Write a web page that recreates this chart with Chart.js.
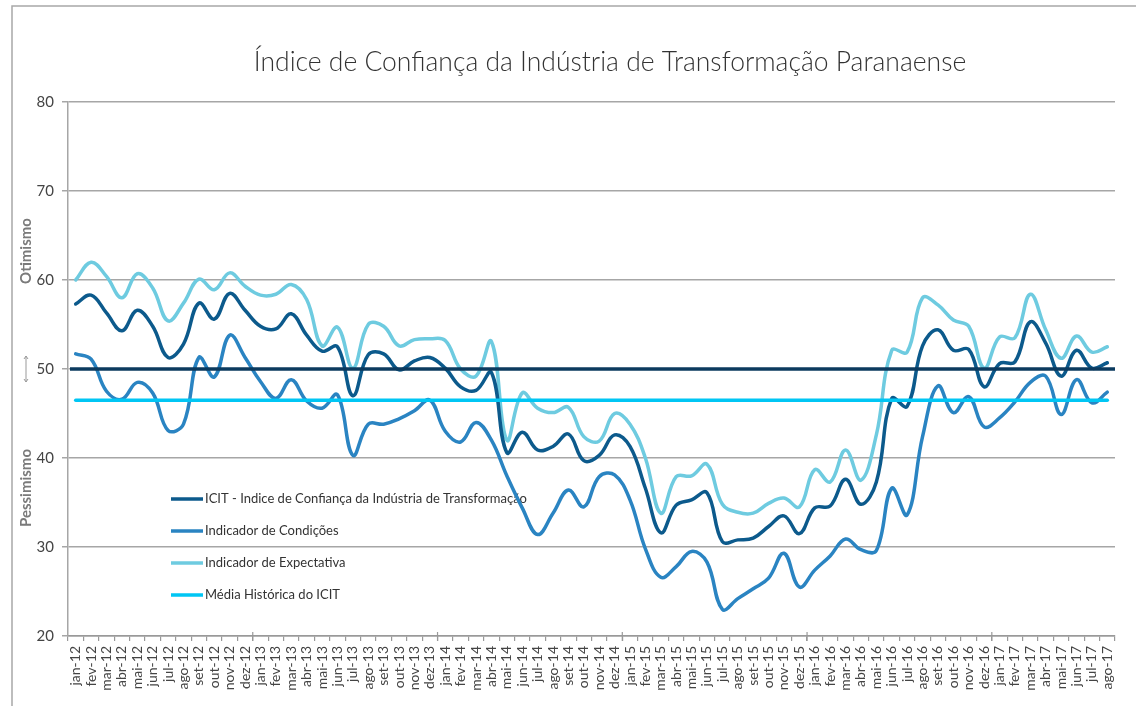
<!DOCTYPE html>
<html>
<head>
<meta charset="utf-8">
<script src="https://cdn.jsdelivr.net/npm/chart.js@4.4.1/dist/chart.umd.min.js"></script>
<style>
  html, body { margin: 0; padding: 0; background: #fff; }
  #wrap { width: 1136px; height: 706px; position: relative; }
</style>
</head>
<body>
<div id="wrap"><canvas id="chart" width="1136" height="706"></canvas></div>
<script>
// -----------------------------
// DATA
// -----------------------------
const meses = [
  "jan-12","fev-12","mar-12","abr-12","mai-12","jun-12","jul-12","ago-12","set-12","out-12","nov-12","dez-12",
  "jan-13","fev-13","mar-13","abr-13","mai-13","jun-13","jul-13","ago-13","set-13","out-13","nov-13","dez-13",
  "jan-14","fev-14","mar-14","abr-14","mai-14","jun-14","jul-14","ago-14","set-14","out-14","nov-14","dez-14",
  "jan-15","fev-15","mar-15","abr-15","mai-15","jun-15","jul-15","ago-15","set-15","out-15","nov-15","dez-15",
  "jan-16","fev-16","mar-16","abr-16","mai-16","jun-16","jul-16","ago-16","set-16","out-16","nov-16","dez-16",
  "jan-17","fev-17","mar-17","abr-17","mai-17","jun-17","jul-17","ago-17"
];

const icit = [
  57.3, 58.3, 56.3, 54.3, 56.6, 54.8, 51.3, 52.8, 57.4, 55.6, 58.5, 56.6,
  54.8, 54.5, 56.2, 53.8, 52.0, 52.5, 47.0, 51.6, 51.7, 49.9, 50.9, 51.3,
  50.1, 48.0, 47.6, 49.6, 40.6, 42.9, 40.9, 41.3, 42.7, 39.7, 40.3, 42.6,
  41.3, 36.6, 31.6, 34.7, 35.3, 36.1, 30.6, 30.8, 31.0, 32.3, 33.5, 31.5,
  34.4, 34.6, 37.6, 34.8, 37.3, 46.7, 45.8, 52.6, 54.4, 52.1, 52.2, 48.0,
  50.6, 50.8, 55.3, 52.9, 49.2, 52.1, 50.1, 50.7
];

const condicoes = [
  51.7, 51.1, 47.5, 46.6, 48.5, 47.3, 43.1, 43.8, 51.3, 49.1, 53.8, 51.3,
  48.6, 46.7, 48.8, 46.4, 45.6, 47.1, 40.3, 43.8, 43.8, 44.4, 45.3, 46.5,
  43.0, 41.8, 44.0, 42.0, 38.0, 34.4, 31.4, 33.8, 36.4, 34.5, 37.9, 38.1,
  35.3, 29.8, 26.6, 27.8, 29.5, 28.3, 23.0, 24.2, 25.3, 26.5, 29.3, 25.5,
  27.4, 29.0, 30.9, 29.7, 29.6, 36.6, 33.6, 42.4, 48.1, 45.1, 46.9, 43.5,
  44.5, 46.3, 48.5, 49.2, 44.9, 48.8, 46.2, 47.4
];

const expectativa = [
  60.0, 62.0, 60.4, 58.0, 60.7, 59.1, 55.4, 57.4, 60.1, 58.9, 60.8, 59.3,
  58.3, 58.4, 59.5, 57.8, 52.6, 54.7, 50.1, 55.0, 54.8, 52.6, 53.3, 53.4,
  53.2, 50.0, 49.2, 53.1, 42.0, 47.3, 45.6, 45.1, 45.7, 42.4, 41.9, 45.0,
  43.8, 40.0, 33.8, 37.9, 38.0, 39.3, 34.8, 33.9, 33.8, 34.9, 35.5, 34.5,
  38.7, 37.3, 40.9, 37.5, 42.6, 52.1, 51.9, 58.0, 57.2, 55.5, 54.8, 50.1,
  53.6, 53.5, 58.4, 54.4, 51.2, 53.7, 51.9, 52.5
];

// media historica do ICIT (linha horizontal) e linha neutra de 50 pontos
const mediaHistorica = 46.5;
const linhaNeutra = 50;

const yTicks = [20, 30, 40, 50, 60, 70, 80];

const FONT = "Lato, 'Open Sans', sans-serif";

// -----------------------------
// PLUGINS
// -----------------------------

// moldura, titulo e rotulos laterais
const decorPlugin = {
  id: "decor",
  beforeDraw(chart) {
    const ctx = chart.ctx;
    ctx.save();
    ctx.strokeStyle = "#a8a8a8";
    ctx.lineWidth = 1.5;
    ctx.beginPath();
    ctx.moveTo(12, 706);
    ctx.lineTo(12, 6);
    ctx.lineTo(1136, 6);
    ctx.stroke();

    ctx.fillStyle = "#333";
    ctx.font = "300 26.5px " + FONT;
    ctx.textAlign = "center";
    ctx.textBaseline = "alphabetic";
    ctx.fillText("Índice de Confiança da Indústria de Transformação Paranaense", 610, 71);

    // Otimismo / Pessimismo
    ctx.fillStyle = "#7a7a7a";
    ctx.font = "bold 15px " + FONT;
    ctx.textBaseline = "middle";
    [["Otimismo", 251], ["Pessimismo", 488]].forEach(([txt, y]) => {
      ctx.save();
      ctx.translate(26, y);
      ctx.rotate(-Math.PI / 2);
      ctx.fillText(txt, 0, 0);
      ctx.restore();
    });

    // seta dupla
    const yc = chart.scales.y.getPixelForValue(linhaNeutra);
    ctx.strokeStyle = "#999";
    ctx.lineWidth = 1;
    ctx.beginPath();
    ctx.moveTo(26, yc - 13); ctx.lineTo(26, yc + 13);
    ctx.moveTo(24, yc - 10); ctx.lineTo(26, yc - 13); ctx.lineTo(28, yc - 10);
    ctx.moveTo(24, yc + 10); ctx.lineTo(26, yc + 13); ctx.lineTo(28, yc + 10);
    ctx.stroke();
    ctx.restore();
  }
};

// legenda dentro da area do grafico
const legendPlugin = {
  id: "legendaInterna",
  beforeDatasetsDraw(chart) {
    const ctx = chart.ctx;
    ctx.save();
    ctx.font = "13px " + FONT;
    ctx.textBaseline = "middle";
    ctx.textAlign = "left";
    chart.data.datasets.forEach((ds, i) => {
      const y = 499 + i * 32;
      ctx.strokeStyle = ds.borderColor;
      ctx.lineWidth = 3.5;
      ctx.beginPath();
      ctx.moveTo(171, y);
      ctx.lineTo(203, y);
      ctx.stroke();
      ctx.fillStyle = "#333";
      ctx.fillText(ds.label, 205, y);
    });
    ctx.restore();
  }
};

// linha de 50 pontos e marcas de ano no eixo x
const neutralPlugin = {
  id: "linhaNeutra",
  afterDatasetsDraw(chart) {
    const ctx = chart.ctx;
    const { left, right, bottom } = chart.chartArea;
    const y = chart.scales.y.getPixelForValue(linhaNeutra);
    ctx.save();
    ctx.strokeStyle = "#0b3a5e";
    ctx.lineWidth = 3.5;
    ctx.beginPath();
    ctx.moveTo(left + 2, y);
    ctx.lineTo(right, y);
    ctx.stroke();

    const step = (right - left) / meses.length;
    ctx.strokeStyle = "#999";
    ctx.lineWidth = 1.2;
    for (let k = 12; k < meses.length; k += 12) {
      const x = left + k * step;
      ctx.beginPath();
      ctx.moveTo(x, bottom - 4);
      ctx.lineTo(x, bottom + 5);
      ctx.stroke();
    }
    ctx.restore();
  }
};

// -----------------------------
// CHART
// -----------------------------
const ctx = document.getElementById("chart");

new Chart(ctx, {
  type: "line",
  data: {
    labels: meses,
    datasets: [
      {
        label: "ICIT - Indice de Confiança da Indústria de Transformação",
        data: icit,
        borderColor: "#0c5a8c",
        order: 1
      },
      {
        label: "Indicador de Condições",
        data: condicoes,
        borderColor: "#2a84c2",
        order: 2
      },
      {
        label: "Indicador de Expectativa",
        data: expectativa,
        borderColor: "#6ecbe0",
        order: 3
      },
      {
        label: "Média Histórica do ICIT",
        data: meses.map(() => mediaHistorica),
        borderColor: "#00c6f4",
        tension: 0,
        order: 0
      }
    ]
  },
  options: {
    responsive: false,
    animation: false,
    devicePixelRatio: 1,
    layout: { padding: { top: 102, right: 21, left: 0, bottom: 0 } },
    plugins: {
      legend: { display: false },
      title: { display: false },
      tooltip: { enabled: false }
    },
    elements: {
      point: { radius: 0 },
      line: { tension: 0.4, borderWidth: 3.5, borderCapStyle: "round", fill: false }
    },
    scales: {
      x: {
        offset: true,
        grid: { offset: true, drawOnChartArea: false, tickLength: 5, color: "#999", lineWidth: 1.2 },
        border: { color: "#999", width: 1.5 },
        ticks: {
          autoSkip: false,
          maxRotation: 90,
          minRotation: 90,
          color: "#444",
          padding: 5,
          font: { family: FONT, size: 14 }
        },
        afterFit: s => { s.height = 70; }
      },
      y: {
        min: 20,
        max: 80,
        afterBuildTicks: s => { s.ticks = yTicks.map(v => ({ value: v })); },
        ticks: { color: "#444", padding: 8, font: { family: FONT, size: 15 } },
        grid: { color: "#a6a6a6", lineWidth: 1.5, tickLength: 6 },
        border: { color: "#a6a6a6", width: 1.5 },
        afterFit: s => { s.width = 68; }
      }
    }
  },
  plugins: [decorPlugin, legendPlugin, neutralPlugin]
});
</script>
</body>
</html>
